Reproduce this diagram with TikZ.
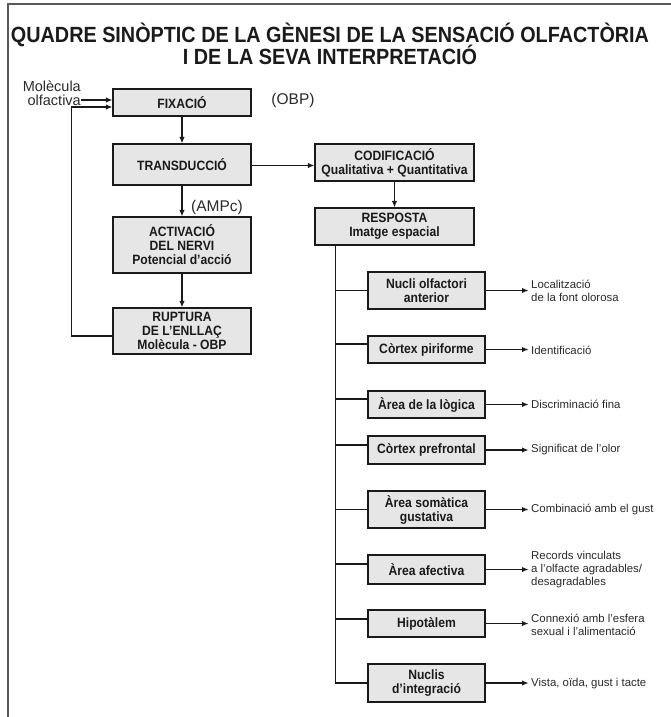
\documentclass[tikz,border=0pt]{standalone}
\usepackage{fontspec}
\setmainfont{Liberation Sans}
\newfontfamily\cond[FakeStretch=0.9]{Liberation Sans}
\usetikzlibrary{arrows.meta}
\definecolor{ink}{HTML}{1A1A1A}
\definecolor{boxfill}{HTML}{E6E6E6}
\definecolor{txtgray}{HTML}{2A2A2A}
\tikzset{
  box/.style={draw=ink, line width=1.3pt, fill=boxfill, align=center, inner sep=0pt,
    text=ink, font=\cond\bfseries\fontsize{13.5}{14}\selectfont},
  conn/.style={draw=ink, line width=1.2pt},
  arr/.style={conn, -{Latex[length=6.5pt,width=5.5pt]}},
  lab/.style={align=left, anchor=west, inner sep=0pt, text=txtgray,
    font=\fontsize{11.4}{13}\selectfont},
  note/.style={inner sep=0pt, text=txtgray, font=\fontsize{15.5}{15.5}\selectfont},
  ttl/.style={anchor=base, inner sep=0pt, text=ink, font=\cond\bfseries\fontsize{22}{22}\selectfont}
}
\begin{document}
\begin{tikzpicture}[x=1pt,y=-1pt]
\useasboundingbox (0,0) rectangle (671,717);
% frame
\draw[draw=black!65, line width=1.5pt] (8,717) -- (8,4) -- (671,4);
% title
\node[ttl] (t1) at (330,43) {QUADRE SINÒPTIC DE LA GÈNESI DE LA SENSACIÓ OLFACTÒRIA};
\node[ttl] (t2) at (330,65) {I DE LA SEVA INTERPRETACIÓ};
% left column
\node[box, minimum width=138pt, minimum height=27pt] (fix) at (182,102.5) {FIXACIÓ};
\node[box, minimum width=138pt, minimum height=41pt] (trans) at (182,164.5) {TRANSDUCCIÓ};
\node[box, minimum width=138pt, minimum height=56pt] (act) at (182,245) {ACTIVACIÓ\\DEL NERVI\\Potencial d’acció};
\node[box, minimum width=138pt, minimum height=46pt] (rup) at (182,331) {RUPTURA\\DE L’ENLLAÇ\\Molècula - OBP};
\node[note] (obp) at (293,100) {(OBP)};
\node[note] (amp) at (217,207) {(AMPc)};
\node[align=right, anchor=east, inner sep=0pt, text=txtgray, font=\fontsize{14.5}{13.5}\selectfont] (mol) at (81,93) {Molècula\\olfactiva};
\coordinate (m1) at (81,100);
\draw[arr] (m1) -- (m1 -| fix.west);
\draw[arr] (fix) -- (trans);
\draw[arr] (trans) -- (act);
\draw[arr] (act) -- (rup);
\draw[arr] ([yshift=-5pt]rup.west) -- ++(-41,0) |- ([yshift=-4.5pt]fix.west);
% right column
\node[box, minimum width=159pt, minimum height=37pt] (cod) at (394.5,162.5) {CODIFICACIÓ\\Qualitativa + Quantitativa};
\node[box, minimum width=159pt, minimum height=37pt] (resp) at (394.5,226.5) {RESPOSTA\\Imatge espacial};
\draw[arr] ([yshift=-1pt]trans.east) -- ([yshift=-1pt]trans.east -| cod.west);
\draw[arr] (cod) -- (resp);
% branch boxes
\node[box, minimum width=117pt, minimum height=37pt] (b1) at (426.5,290.5) {Nucli olfactori\\anterior};
\node[box, minimum width=117pt, minimum height=27pt] (b2) at (426.5,349.5) {Còrtex piriforme};
\node[box, minimum width=117pt, minimum height=27pt] (b3) at (426.5,404.5) {Àrea de la lògica};
\node[box, minimum width=117pt, minimum height=28pt] (b4) at (426.5,450) {Còrtex prefrontal};
\node[box, minimum width=117pt, minimum height=37pt] (b5) at (426.5,509.5) {Àrea somàtica\\gustativa};
\node[box, minimum width=117pt, minimum height=29pt] (b6) at (426.5,569.5) {Àrea afectiva};
\node[box, minimum width=117pt, minimum height=27pt] (b7) at (426.5,623.5) {Hipotàlem};
\node[box, minimum width=117pt, minimum height=38pt] (b8) at (426.5,683) {Nuclis\\d’integració};
% attachment points
\coordinate (w1) at (b1.west);
\coordinate (w2) at ([yshift=5.5pt]b2.west);
\coordinate (w3) at ([yshift=5.5pt]b3.west);
\coordinate (w4) at ([yshift=5pt]b4.west);
\coordinate (w5) at (b5.west);
\coordinate (w6) at ([yshift=5.5pt]b6.west);
\coordinate (w7) at ([yshift=4.5pt]b7.west);
\coordinate (w8) at (b8.west);
% trunk
\coordinate (tt) at ([xshift=21pt]resp.south west);
\draw[conn] (tt) -- (tt |- w8);
\foreach \i in {1,...,8}{
  \draw[conn] (tt |- w\i) -- (w\i);
}
% labels
\node[lab] (l1) at (531,291) {Localització\\de la font olorosa};
\node[lab] (l2) at (531,350) {Identificació};
\node[lab] (l3) at (531,404.5) {Discriminació fina};
\node[lab] (l4) at (531,450) {Significat de l’olor};
\node[lab] (l5) at (531,509.5) {Combinació amb el gust};
\node[lab] (l6) at (531,569.5) {Records vinculats\\a l’olfacte agradables/\\desagradables};
\node[lab] (l7) at (531,625) {Connexió amb l’esfera\\sexual i l’alimentació};
\node[lab] (l8) at (531,683.5) {Vista, oïda, gust i tacte};
\foreach \i in {1,...,8}{
  \draw[arr, shorten >=2.5pt] (b\i.east) -- (b\i.east -| l\i.west);
}
\end{tikzpicture}
\end{document}
